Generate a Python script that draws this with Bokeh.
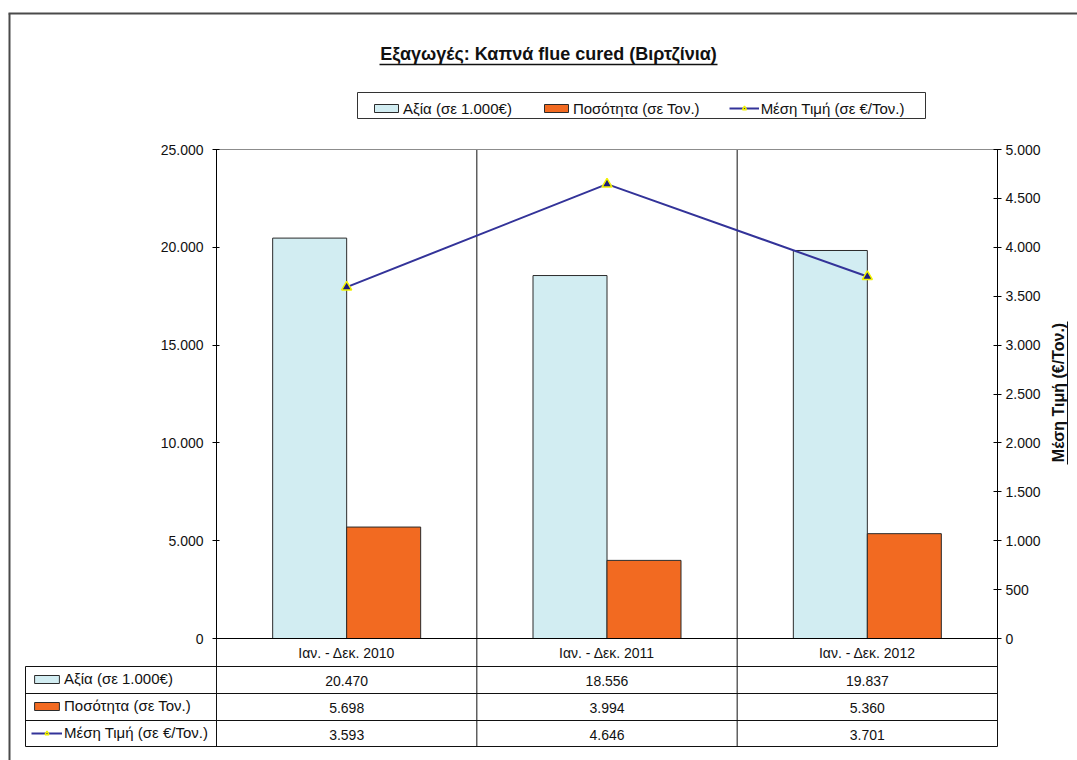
import math
from bokeh.plotting import figure
from bokeh.models import (Range1d, LinearAxis, FixedTicker, Legend, LegendItem, ColumnDataSource)
from bokeh.core.properties import value
from bokeh.embed import file_html
from bokeh.resources import INLINE

# ---------------- data ----------------
categories = ["Ιαν. - Δεκ. 2010", "Ιαν. - Δεκ. 2011", "Ιαν. - Δεκ. 2012"]
value_keur = [20470, 18556, 19837]      # Αξία (σε 1.000€)
quantity_t = [5698, 3994, 5360]         # Ποσότητα (σε Τον.)
avg_price = [3593, 4646, 3701]          # Μέση Τιμή (σε €/Τον.)
series_names = ["Αξία (σε 1.000€)", "Ποσότητα (σε Τον.)", "Μέση Τιμή (σε €/Τον.)"]
left_ticks = [0, 5000, 10000, 15000, 20000, 25000]
right_ticks = [0, 500, 1000, 1500, 2000, 2500, 3000, 3500, 4000, 4500, 5000]
title_text = "Εξαγωγές: Καπνά flue cured (Βιρτζίνια)"
right_axis_title = "Μέση Τιμή (€/Τον.)"

# ---------------- style ----------------
FONT = "Liberation Sans"
TXT = "#111111"
C_BLUE = "#D2EDF2"
C_ORANGE = "#F26A21"
C_EDGE = "#2b2b2b"
C_LINE = "#333399"
C_MARK = "#1c1c7a"
C_MARK_EDGE = "#f2f200"

def fmt(v):
    return f"{v:,}".replace(",", ".")

N = len(categories)
W, H = 1077, 760
# plot-area edges in page pixels
FL, FR, FT, FB = 216, 997, 149, 638
UX = (FR - FL) / N

def dx(px):            # page pixel -> category units
    return (px - FL) / UX

def dy(py):            # page pixel -> left-axis units
    return (FB - py) / (FB - FT) * left_ticks[-1]

def dyr(py):           # page pixel -> right-axis units
    return (FB - py) / (FB - FT) * right_ticks[-1]

xs = [i + 0.5 for i in range(N)]
bw = 74 / UX
src = ColumnDataSource(dict(xv=[x - bw / 2 for x in xs], xq=[x + bw / 2 for x in xs], xc=xs,
                            v=value_keur, q=quantity_t, p=avg_price))

p = figure(width=W, height=H, x_range=Range1d(dx(0), dx(W)), y_range=Range1d(dy(H), dy(0)),
           min_border=0, x_axis_location=None, y_axis_location=None,
           output_backend="svg", toolbar_location=None, title=None,
           background_fill_color="white", border_fill_color="white")
p.outline_line_color = None
p.xgrid.visible = False
p.ygrid.visible = False
p.extra_y_ranges = {"price": Range1d(dyr(H), dyr(0))}

# ---------------- structure lines ----------------
ROWS = [FB, 666, 693, 720, 746]
TL = 25
seg_x0, seg_x1, seg_y0, seg_y1 = [], [], [], []
def seg(x0, y0, x1, y1):
    seg_x0.append(dx(x0)); seg_x1.append(dx(x1)); seg_y0.append(dy(y0)); seg_y1.append(dy(y1))

for i in range(1, N):
    xp = FL + UX * i
    seg(xp, FT, xp, ROWS[-1])
seg(FL, FB, FL, ROWS[-1])
seg(FR, FB, FR, ROWS[-1])
seg(TL, ROWS[1], TL, ROWS[-1])
for y in ROWS[1:]:
    seg(TL, y, FR, y)
p.segment(x0=seg_x0, y0=seg_y0, x1=seg_x1, y1=seg_y1, line_color="#111111", line_width=1)

# plot area top border (grey)
p.segment(x0=[0], y0=[left_ticks[-1]], x1=[N], y1=[left_ticks[-1]], line_color="#8c8c8c", line_width=1)

# outer border
p.segment(x0=[dx(9), dx(8)], y0=[dy(13), dy(13)], x1=[dx(9), dx(W + 5)], y1=[dy(H + 5), dy(13)],
          line_color="#4a4a4a", line_width=2)

# legend box
p.quad(left=[dx(357)], right=[dx(925)], top=[dy(92)], bottom=[dy(118)],
       fill_color="white", line_color="#333333", line_width=1)

# ---------------- series ----------------
r_v = p.vbar(x="xv", top="v", width=bw, source=src,
             fill_color=C_BLUE, line_color=C_EDGE, line_width=1)
r_q = p.vbar(x="xq", top="q", width=bw, source=src,
             fill_color=C_ORANGE, line_color=C_EDGE, line_width=1)
r_l = p.line(x="xc", y="p", source=src, y_range_name="price", line_color=C_LINE, line_width=2)
r_m = p.scatter(x="xc", y="p", source=src, y_range_name="price", marker="triangle", size=10,
                fill_color=C_MARK, line_color=C_MARK_EDGE, line_width=1.5)

# ---------------- axes (fixed at the plot-area edges) ----------------
ya = LinearAxis(ticker=FixedTicker(ticks=left_ticks), fixed_location=0,
                bounds=(left_ticks[0], left_ticks[-1]))
ya.major_label_overrides = {t: fmt(t) for t in left_ticks}
ya.minor_tick_line_color = None
ya.major_tick_in = 3
ya.major_tick_out = 4
ya.major_label_standoff = 9
ya.axis_line_color = "black"
ya.major_tick_line_color = "black"
ya.major_label_text_font = FONT
ya.major_label_text_font_size = "14px"
ya.major_label_text_color = TXT
p.add_layout(ya, "left")

ra = LinearAxis(y_range_name="price", ticker=FixedTicker(ticks=right_ticks), fixed_location=N,
                bounds=(right_ticks[0], right_ticks[-1]))
ra.major_label_overrides = {t: fmt(t) for t in right_ticks}
ra.minor_tick_line_color = None
ra.major_tick_in = 4
ra.major_tick_out = 4
ra.major_label_standoff = 4
ra.axis_line_color = "black"
ra.major_tick_line_color = "black"
ra.major_label_text_font = FONT
ra.major_label_text_font_size = "14px"
ra.major_label_text_color = TXT
p.add_layout(ra, "right")

xa = LinearAxis(ticker=FixedTicker(ticks=xs), fixed_location=0, bounds=(0, N))
xa.major_label_overrides = {x: c for x, c in zip(xs, categories)}
xa.axis_line_color = "black"
xa.major_tick_line_color = None
xa.minor_tick_line_color = None
xa.major_tick_out = 0
xa.major_tick_in = 0
xa.major_label_standoff = 6
xa.major_label_text_font = FONT
xa.major_label_text_font_size = "14px"
xa.major_label_text_color = TXT
p.add_layout(xa, "below")

# ---------------- table values ----------------
tx, ty, tt = [], [], []
for r, vals in enumerate([value_keur, quantity_t, avg_price]):
    ymid = dy((ROWS[r + 1] + ROWS[r + 2]) / 2 + 1)
    for i, v in enumerate(vals):
        tx.append(xs[i]); ty.append(ymid); tt.append(fmt(v))
p.text(x=tx, y=ty, text=tt, text_align="center", text_baseline="middle",
       text_font=value(FONT), text_font_size="14px", text_color=TXT)

# ---------------- titles ----------------
p.text(x=[dx(548)], y=[dy(53)], text=[title_text], text_align="center", text_baseline="middle",
       text_font=value(FONT), text_font_size="18px", text_font_style="bold", text_color=TXT)
p.segment(x0=[dx(379)], y0=[dy(64)], x1=[dx(717)], y1=[dy(64)], line_color=TXT, line_width=1.5)

p.text(x=[dx(1058)], y=[dyr(392)], y_range_name="price", text=[right_axis_title], angle=math.pi / 2,
       text_align="center", text_baseline="middle", text_font=value(FONT),
       text_font_size="16px", text_font_style="bold", text_color=TXT)
p.segment(x0=[dx(1067)], y0=[dy(321)], x1=[dx(1067)], y1=[dy(464)], line_color=TXT, line_width=1)

# ---------------- legends ----------------
top_items = [LegendItem(label=series_names[0], renderers=[r_v]),
             LegendItem(label=series_names[1], renderers=[r_q]),
             LegendItem(label=series_names[2], renderers=[r_l, r_m])]
leg = Legend(items=top_items, orientation="horizontal", location=(371, H - 118),
             glyph_width=30, glyph_height=10, label_standoff=2, spacing=29, padding=3,
             label_height=20, margin=0, label_text_font=FONT, label_text_font_size="15px",
             label_text_color=TXT, border_line_color=None, background_fill_alpha=0)
p.add_layout(leg)

tab_items = [LegendItem(label=series_names[0], renderers=[r_v]),
             LegendItem(label=series_names[1], renderers=[r_q]),
             LegendItem(label=series_names[2], renderers=[r_l, r_m])]
leg2 = Legend(items=tab_items, orientation="vertical", location=(31, H - ROWS[-1]),
              glyph_width=31, glyph_height=10, label_standoff=2, spacing=0, padding=0,
              label_height=27, margin=0, label_text_font=FONT, label_text_font_size="15px",
              label_text_color=TXT, border_line_color=None, background_fill_alpha=0)
p.add_layout(leg2)

open("out.html", "w").write(file_html(p, INLINE))
